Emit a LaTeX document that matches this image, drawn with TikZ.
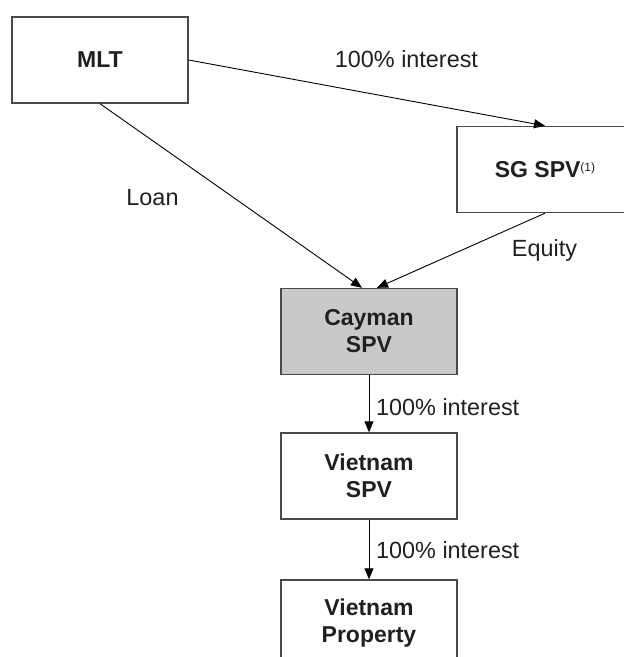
\documentclass[tikz,border=0pt]{standalone}
\usepackage{fontspec}
\setmainfont{Liberation Sans}
\usetikzlibrary{arrows.meta}
\definecolor{boxgray}{HTML}{C8C9CB}
\definecolor{edge}{HTML}{4A4A4A}
\definecolor{ink}{HTML}{231F20}
\tikzset{
  entity/.style={draw=edge, line width=1.4pt, minimum width=176pt, minimum height=86pt,
    inner sep=0pt, align=center, text=ink,
    font=\fontsize{23}{27}\selectfont\bfseries},
  link/.style={draw=black, line width=0.9pt, -{Triangle[length=11pt,width=9pt]}},
  lbl/.style={text=ink, font=\fontsize{23.4}{27}\selectfont, inner sep=0pt}
}
\begin{document}
\begin{tikzpicture}[x=1pt,y=-1pt]
\useasboundingbox (0,0) rectangle (624,657);
\clip (0,0) rectangle (624,657);
\fill[white] (0,0) rectangle (624,657);
\node[entity] (mlt) at (100,60) {MLT};
\node[entity] (sg) at (545,169.5) {SG SPV\raisebox{6pt}{\fontsize{12}{12}\selectfont\mdseries(1)}};
\node[entity, fill=boxgray] (cay) at (369,331.5) {Cayman\\SPV};
\node[entity] (vsp) at (369,476) {Vietnam\\SPV};
\node[entity] (vpr) at (369,623) {Vietnam\\Property};
\draw[link] (mlt.east) -- (sg.north);
\draw[link] (mlt.south) -- ([xshift=-7pt]cay.north);
\draw[link] (sg.south) -- ([xshift=8pt]cay.north);
\draw[link] (cay.south) -- (vsp.north);
\draw[link] (vsp.south) -- (vpr.north);
\node[lbl, anchor=base] (l1) at (406.5,67) {100\% interest};
\node[lbl, anchor=base] (l2) at (152.5,205) {Loan};
\node[lbl, anchor=base] (l3) at (544.5,256) {Equity};
\node[lbl, anchor=base west] (l4) at (376,415) {100\% interest};
\node[lbl, anchor=base west] (l5) at (376,558) {100\% interest};
\end{tikzpicture}
\end{document}
